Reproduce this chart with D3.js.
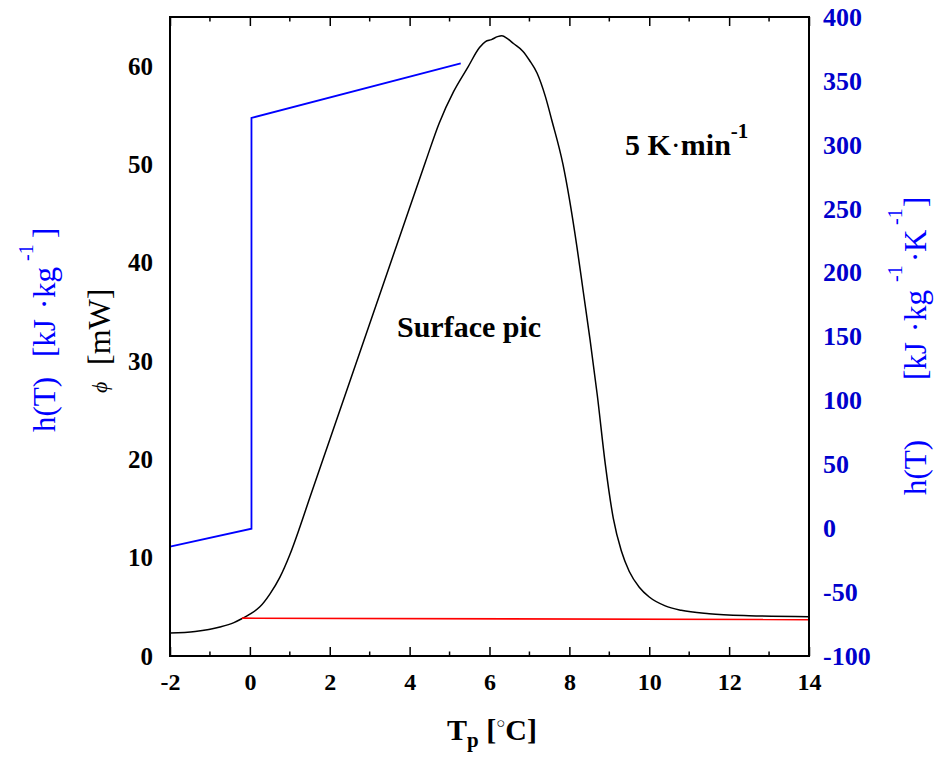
<!DOCTYPE html>
<html>
<head>
<meta charset="utf-8">
<title>Surface pic</title>
<script src="https://d3js.org/d3.v7.min.js"></script>
<style>
  body { margin: 0; background: #fff; }
  text { font-family: "Liberation Serif", "Times New Roman", serif; }
</style>
</head>
<body>
<script>
// phi(T) heat flow curve [mW]
var tempPhi = [-2, -1.37, -0.75, -0.4, -0.2, 0, 0.25, 0.5, 0.75, 1.0, 1.25, 1.5, 2.0, 2.5, 3.0, 3.5, 4.0, 4.4, 4.74, 5.1, 5.46, 5.75, 5.9, 6.05, 6.2, 6.31, 6.45, 6.6, 6.84, 7.0, 7.19, 7.4, 7.56, 7.84, 8.0, 8.19, 8.35, 8.52, 8.7, 8.9, 9.1, 9.3, 9.5, 9.75, 10.0, 10.4, 10.8, 11.5, 12.5, 14];
var phi     = [2.34, 2.5, 2.95, 3.4, 3.8, 4.25, 5.0, 6.3, 8.0, 10.3, 13.1, 16.1, 22.0, 27.9, 33.8, 39.7, 45.6, 50.3, 54.2, 57.4, 59.9, 61.9, 62.5, 62.7, 63.0, 63.1, 62.8, 62.3, 61.5, 60.6, 59.3, 56.9, 54.5, 50.0, 46.5, 41.6, 37.0, 32.1, 26.5, 19.5, 14.0, 10.7, 8.6, 7.0, 6.0, 5.1, 4.65, 4.3, 4.1, 4.0];
// baseline (red)
var tempBase = [-0.2, 14];
var base     = [3.85, 3.7];
// enthalpy h(T) [kJ/kg] on right axis (blue)
var tempH = [-2, 0.04, 0.04, 5.28];
var hVal  = [-14.5, -0.4, 321, 363.8];

var xTicks = [-2, 0, 2, 4, 6, 8, 10, 12, 14];
var yLeftTicks = [0, 10, 20, 30, 40, 50, 60];
var yRightTicks = [-100, -50, 0, 50, 100, 150, 200, 250, 300, 350, 400];

var W = 942, H = 757;
var L = 170, R = 809, T = 17, B = 656;

var svg = d3.select("body").append("svg").attr("width", W).attr("height", H);

var x = d3.scaleLinear().domain([-2, 14]).range([L, R]);
var yL = d3.scaleLinear().domain([0, 65]).range([B, T]);
var yR = d3.scaleLinear().domain([-100, 400]).range([B, T]);

var blueTxt = "#0000cc";
var signed = function(d) { return d < 0 ? "-" + (-d) : "" + d; };

// minor + major ticks on bottom and top
var minor = d3.range(-1, 14, 2);
var axBottom = d3.axisBottom(x).tickValues(xTicks).tickSize(-9).tickFormat(signed);
var gx = svg.append("g").attr("transform", "translate(0," + B + ")").call(axBottom);
gx.select(".domain").remove();
gx.selectAll(".tick line").attr("stroke", "#000").attr("stroke-width", 1.5);
gx.selectAll(".tick text").attr("y", 17).attr("dy", "0.71em")
  .style("font-size", "24px").style("font-weight", "bold").attr("fill", "#000");
gx.selectAll(".mt").data(minor).enter().append("line")
  .attr("x1", function(d) { return x(d); }).attr("x2", function(d) { return x(d); })
  .attr("y1", 0).attr("y2", -4.5).attr("stroke", "#000").attr("stroke-width", 1.5);

var axTop = d3.axisTop(x).tickValues(xTicks).tickSize(-9).tickFormat("");
var gt = svg.append("g").attr("transform", "translate(0," + T + ")").call(axTop);
gt.select(".domain").remove();
gt.selectAll(".tick line").attr("stroke", "#000").attr("stroke-width", 1.5);
gt.selectAll(".mt").data(minor).enter().append("line")
  .attr("x1", function(d) { return x(d); }).attr("x2", function(d) { return x(d); })
  .attr("y1", 0).attr("y2", 4.5).attr("stroke", "#000").attr("stroke-width", 1.5);

// left axis labels (no tick marks)
var gl = svg.append("g").attr("transform", "translate(" + L + ",0)")
  .call(d3.axisLeft(yL).tickValues(yLeftTicks).tickSize(0).tickPadding(17));
gl.select(".domain").remove();
gl.selectAll(".tick text").style("font-size", "25px").style("font-weight", "bold").attr("fill", "#000");

// right axis labels
var gr = svg.append("g").attr("transform", "translate(" + R + ",0)")
  .call(d3.axisRight(yR).tickValues(yRightTicks).tickSize(0).tickPadding(14).tickFormat(signed));
gr.select(".domain").remove();
gr.selectAll(".tick text").style("font-size", "26px").style("font-weight", "bold").attr("fill", blueTxt);

// curves
var linePhi = d3.line().x(function(d, i) { return x(tempPhi[i]); }).y(function(d) { return yL(d); })
  .curve(d3.curveMonotoneX);
svg.append("path").attr("d", linePhi(phi)).attr("fill", "none").attr("stroke", "#000").attr("stroke-width", 1.5);

var lineBase = d3.line().x(function(d, i) { return x(tempBase[i]); }).y(function(d) { return yL(d); });
svg.append("path").attr("d", lineBase(base)).attr("fill", "none").attr("stroke", "#ff0000").attr("stroke-width", 1.6);

var lineH = d3.line().x(function(d, i) { return x(tempH[i]); }).y(function(d) { return yR(d); });
svg.append("path").attr("d", lineH(hVal)).attr("fill", "none").attr("stroke", "#0000ff").attr("stroke-width", 1.8);

// frame
svg.append("rect").attr("x", L).attr("y", T).attr("width", R - L).attr("height", B - T)
  .attr("fill", "none").attr("stroke", "#000").attr("stroke-width", 2);

// annotations
svg.append("text").attr("x", 397).attr("y", 337).style("font-size", "30px").style("font-weight", "bold")
  .text("Surface pic");
var rate = svg.append("text").attr("x", 625).attr("y", 155).style("font-size", "30px").style("font-weight", "bold");
rate.append("tspan").text("5 K");
rate.append("tspan").style("font-weight", "normal").text("\u00b7");
rate.append("tspan").text("min");
rate.append("tspan").attr("dy", -17).style("font-size", "21px").text("-1");

// x label
var xl = svg.append("text").attr("x", 492).attr("y", 740).attr("text-anchor", "middle")
  .style("font-size", "30px").style("font-weight", "bold");
xl.append("tspan").text("T");
xl.append("tspan").attr("dy", 7).style("font-size", "21px").text("p");
xl.append("tspan").attr("dy", -7).text(" [");
xl.append("tspan").attr("dy", -12).style("font-size", "15px").style("font-weight", "normal").text("\u25CB");
xl.append("tspan").attr("dy", 12).text("C]");

// rotated label built from pieces placed along the text direction
function vlabel(px, py, pieces, color, size) {
  var t = svg.append("text").attr("transform", "translate(" + px + "," + py + ") rotate(-90)")
    .attr("fill", color).style("font-size", size + "px");
  pieces.forEach(function(p) {
    t.append("tspan").attr("x", p[0]).attr("y", p[2] || 0)
      .style("font-size", (p[3] || size) + "px").style("font-style", p[4] || "normal").text(p[1]);
  });
}

vlabel(55, 432, [[0, "h(T)"], [75, "[kJ"], [123, "\u00b7"], [134, "kg"], [171, "-1", -22, 20], [194, "]"]], "#0000ff", 31);
vlabel(110, 393, [[0, "\u03d5", -3, 22, "italic"], [28, "[mW]"]], "#000", 32);
vlabel(926, 495, [[0, "h(T)"], [115, "[kJ"], [163, "\u00b7"], [174, "kg"], [213, "-1", -24, 20], [233, "\u00b7"], [243, "K"], [270, "-1", -24, 20], [288, "]"]], "#0000ff", 31);
</script>
</body>
</html>
